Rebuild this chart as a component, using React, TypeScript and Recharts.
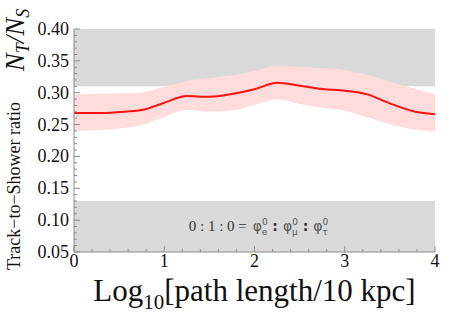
import React from "react";
import { ComposedChart, Area, Line, XAxis, YAxis, ReferenceArea, Label } from "recharts";

const xs = [0, 0.25, 0.5, 0.75, 1, 1.25, 1.5, 1.75, 2, 2.25, 2.5, 2.75, 3, 3.25, 3.5, 3.75, 4];
const ratio = [0.268, 0.268, 0.2697, 0.2728, 0.2843, 0.2948, 0.2937, 0.2979, 0.3053, 0.3157, 0.311, 0.3058, 0.3032, 0.2974, 0.2833, 0.2713, 0.266];
const upper = [0.2974, 0.298, 0.299, 0.3005, 0.3095, 0.3184, 0.3226, 0.3273, 0.334, 0.3424, 0.3408, 0.3383, 0.3357, 0.328, 0.3173, 0.307, 0.2974];
const lower = [0.24, 0.2414, 0.244, 0.2493, 0.2623, 0.2728, 0.27, 0.2718, 0.2807, 0.2896, 0.2822, 0.2765, 0.2718, 0.2613, 0.2509, 0.2425, 0.2388];

const xMajor = [0, 1, 2, 3, 4];
const xAllTicks = [0, 0.2, 0.4, 0.6, 0.8, 1, 1.2, 1.4, 1.6, 1.8, 2, 2.2, 2.4, 2.6, 2.8, 3, 3.2, 3.4, 3.6, 3.8, 4];
const yMajor = [0.05, 0.1, 0.15, 0.2, 0.25, 0.3, 0.35, 0.4];
const yAllTicks = [0.05, 0.06, 0.07, 0.08, 0.09, 0.1, 0.11, 0.12, 0.13, 0.14, 0.15, 0.16, 0.17, 0.18, 0.19, 0.2, 0.21, 0.22, 0.23, 0.24, 0.25, 0.26, 0.27, 0.28, 0.29, 0.3, 0.31, 0.32, 0.33, 0.34, 0.35, 0.36, 0.37, 0.38, 0.39, 0.4];
const yTickLabels = ["0.05", "0.10", "0.15", "0.20", "0.25", "0.30", "0.35", "0.40"];
const excludedBands = [
  [0.31, 0.4],
  [0.05, 0.13],
];

const data = xs.map((x, i) => ({ x, ratio: ratio[i], band: [lower[i], upper[i]] }));

const SERIF = "'Liberation Serif', 'Times New Roman', Times, serif";
const SANS = "'DejaVu Sans', sans-serif";
const FRAME = "#8c8c8c";
const serifStyle = { fontFamily: SERIF };
const sansStyle = { fontFamily: SANS };
const isMajor = (v: number, majors: number[]) => majors.some((m) => Math.abs(m - v) < 1e-6);

const BottomTick = (props: any) => {
  const { x, y, payload } = props;
  const major = isMajor(payload.value, xMajor);
  return (
    <g>
      <line x1={x} y1={y} x2={x} y2={y - (major ? 6 : 3)} stroke={FRAME} strokeWidth={1} />
      {major && (
        <text x={x} y={y + 15} textAnchor="middle" style={serifStyle} fontSize={18} fill="#111">
          {String(payload.value)}
        </text>
      )}
    </g>
  );
};

const TopTick = (props: any) => {
  const { x, y, payload } = props;
  const major = isMajor(payload.value, xMajor);
  return <line x1={x} y1={y} x2={x} y2={y + (major ? 6 : 3)} stroke={FRAME} strokeWidth={1} />;
};

const LeftTick = (props: any) => {
  const { x, y, payload } = props;
  const idx = yMajor.findIndex((m) => Math.abs(m - payload.value) < 1e-6);
  const major = idx >= 0;
  return (
    <g>
      <line x1={x} y1={y} x2={x + (major ? 6 : 3)} y2={y} stroke={FRAME} strokeWidth={1} />
      {major && (
        <text x={x - 5} y={y + 6} textAnchor="end" style={serifStyle} fontSize={18} fill="#111">
          {yTickLabels[idx]}
        </text>
      )}
    </g>
  );
};

const RightTick = (props: any) => {
  const { x, y, payload } = props;
  const major = isMajor(payload.value, yMajor);
  return <line x1={x} y1={y} x2={x - (major ? 6 : 3)} y2={y} stroke={FRAME} strokeWidth={1} />;
};

const XTitle = (props: any) => {
  const vb = props.viewBox || {};
  return (
    <text x={vb.x + vb.width / 2} y={vb.y + 49} textAnchor="middle" style={serifStyle} fontSize={31} fill="#111">
      Log
      <tspan fontSize={21} dy={8}>10</tspan>
      <tspan dy={-8}>[path length/10 kpc]</tspan>
    </text>
  );
};

const YTitle = (props: any) => {
  const vb = props.viewBox || {};
  const cx1 = vb.x + 20;
  const cy1 = vb.y + 157;
  const cx2 = vb.x + 24;
  const cy2 = vb.y + 11;
  return (
    <g>
      <text
        x={cx1}
        y={cy1}
        transform={`rotate(-90 ${cx1} ${cy1})`}
        textAnchor="middle"
        style={serifStyle}
        fontSize={18}
        fill="#111"
      >
        Track−to−Shower ratio
      </text>
      <text
        x={cx2}
        y={cy2}
        transform={`rotate(-90 ${cx2} ${cy2})`}
        textAnchor="middle"
        style={serifStyle}
        fontSize={27}
        fontStyle="italic"
        fill="#111"
      >
        N
        <tspan fontSize={18} dy={5}>T</tspan>
        <tspan dy={-5}>/N</tspan>
        <tspan fontSize={18} dy={5}>S</tspan>
      </text>
    </g>
  );
};

const FlavorLabel = (props: any) => {
  const vb = props.viewBox || {};
  const cx = vb.x + vb.width / 2 + 4;
  const cy = vb.y + vb.height / 2 + 4;
  return (
    <text x={cx} y={cy} textAnchor="middle" style={serifStyle} fontSize={15} fill="#333">
      0 : 1 : 0 =
      <tspan style={sansStyle} fontSize={14} fill="#555" dx={6}>φ</tspan>
      <tspan style={sansStyle} fontSize={9} fill="#555" dy={-6}>0</tspan>
      <tspan style={sansStyle} fontSize={9} fill="#555" dx={-6} dy={10}>e</tspan>
      <tspan style={sansStyle} fontSize={14} fill="#333" fontWeight="bold" dy={-4} dx={5}>:</tspan>
      <tspan style={sansStyle} fontSize={14} fill="#555" dx={5}>φ</tspan>
      <tspan style={sansStyle} fontSize={9} fill="#555" dy={-6}>0</tspan>
      <tspan style={sansStyle} fontSize={9} fill="#555" dx={-6} dy={10}>μ</tspan>
      <tspan style={sansStyle} fontSize={14} fill="#333" fontWeight="bold" dy={-4} dx={5}>:</tspan>
      <tspan style={sansStyle} fontSize={14} fill="#555" dx={5}>φ</tspan>
      <tspan style={sansStyle} fontSize={9} fill="#555" dy={-6}>0</tspan>
      <tspan style={sansStyle} fontSize={9} fill="#555" dx={-6} dy={10}>τ</tspan>
    </text>
  );
};

export default function App() {
  return (
    <div style={{ position: "absolute", left: 0, top: 0, width: 463, height: 320, background: "#fff" }}>
      <ComposedChart width={463} height={320} data={data} margin={{ top: 29, right: 28, bottom: 0, left: 0 }}>
        <XAxis
          xAxisId="b"
          dataKey="x"
          type="number"
          domain={[0, 4]}
          allowDataOverflow
          orientation="bottom"
          ticks={xAllTicks}
          interval={0}
          tickSize={0}
          tickMargin={0}
          tickLine={false}
          axisLine={{ stroke: FRAME }}
          tick={<BottomTick />}
          height={68}
        >
          <Label content={<XTitle />} />
        </XAxis>
        <XAxis
          xAxisId="t"
          dataKey="x"
          type="number"
          domain={[0, 4]}
          allowDataOverflow
          orientation="top"
          ticks={xAllTicks}
          interval={0}
          tickSize={0}
          tickMargin={0}
          tickLine={false}
          axisLine={{ stroke: FRAME }}
          tick={<TopTick />}
          height={0}
        />
        <YAxis
          yAxisId="l"
          type="number"
          domain={[0.05, 0.4]}
          allowDataOverflow
          orientation="left"
          ticks={yAllTicks}
          interval={0}
          tickSize={0}
          tickMargin={0}
          tickLine={false}
          axisLine={{ stroke: FRAME }}
          tick={<LeftTick />}
          width={74}
        >
          <Label content={<YTitle />} />
        </YAxis>
        <YAxis
          yAxisId="r"
          type="number"
          domain={[0.05, 0.4]}
          allowDataOverflow
          orientation="right"
          ticks={yAllTicks}
          interval={0}
          tickSize={0}
          tickMargin={0}
          tickLine={false}
          axisLine={{ stroke: FRAME }}
          tick={<RightTick />}
          width={0}
        />
        {excludedBands.map((b, i) => (
          <ReferenceArea
            key={i}
            xAxisId="b"
            yAxisId="l"
            x1={0}
            x2={4}
            y1={b[0]}
            y2={b[1]}
            fill="#d9d9d9"
            fillOpacity={1}
            stroke="none"
            ifOverflow="hidden"
          >
            {i === 1 ? <Label content={<FlavorLabel />} /> : null}
          </ReferenceArea>
        ))}
        <Area
          xAxisId="b"
          yAxisId="l"
          type="monotone"
          dataKey="band"
          stroke="none"
          fill="#ffdcdc"
          fillOpacity={1}
          isAnimationActive={false}
        />
        <Line
          xAxisId="b"
          yAxisId="l"
          type="monotone"
          dataKey="ratio"
          stroke="#ff1010"
          strokeWidth={2}
          dot={false}
          isAnimationActive={false}
        />
      </ComposedChart>
    </div>
  );
}
